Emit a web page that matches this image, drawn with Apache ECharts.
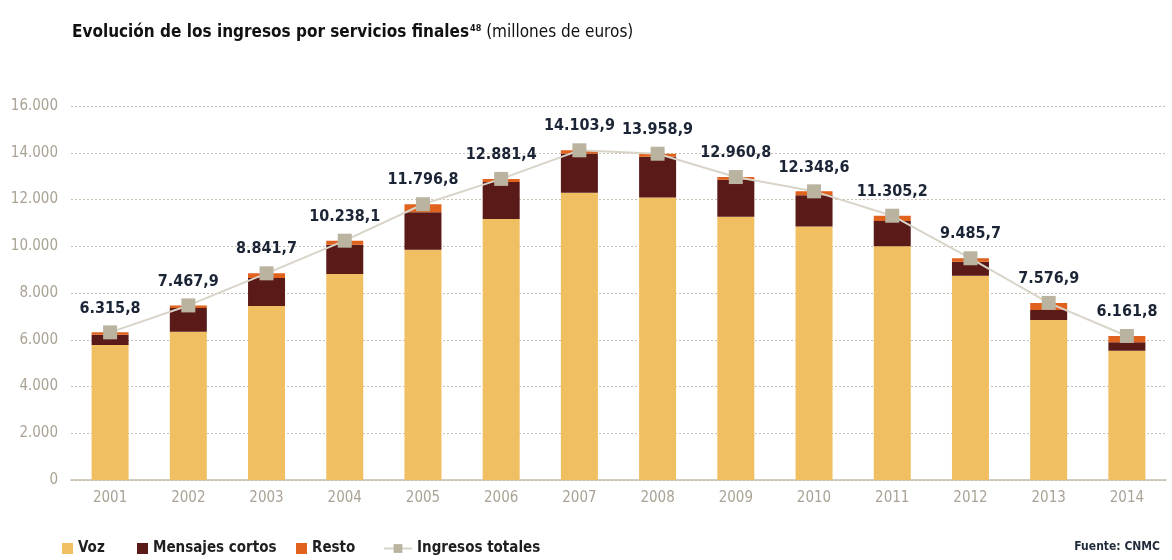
<!DOCTYPE html>
<html>
<head>
<meta charset="utf-8">
<script src="https://cdn.jsdelivr.net/npm/echarts@6/dist/echarts.min.js"></script>
<style>
html,body{margin:0;padding:0;background:#fff;}
#c{width:1172px;height:560px;}
</style>
</head>
<body>
<div id="c"></div>
<script>
const years = ['2001','2002','2003','2004','2005','2006','2007','2008','2009','2010','2011','2012','2013','2014'];
const voz = [5780, 6340, 7440, 8810, 9850, 11170, 12290, 12090, 11260, 10850, 10000, 8740, 6850, 5530];
const mensajes = [430, 1020, 1200, 1250, 1600, 1580, 1680, 1740, 1580, 1330, 1080, 600, 420, 360];
const resto = [105.8, 107.9, 201.7, 178.1, 346.8, 131.4, 133.9, 128.9, 120.8, 168.6, 225.2, 145.7, 306.9, 271.8];
const totales = [6315.8, 7467.9, 8841.7, 10238.1, 11796.8, 12881.4, 14103.9, 13958.9, 12960.8, 12348.6, 11305.2, 9485.7, 7576.9, 6161.8];
const yTicks = [0, 2000, 4000, 6000, 8000, 10000, 12000, 14000, 16000];

const FONT = "'Liberation Sans Narrow', 'DejaVu Sans Condensed', 'Roboto Condensed', sans-serif";

function esNum(v, dec) {
  const s = v.toFixed(dec);
  const parts = s.split('.');
  const int = parts[0].replace(/\B(?=(\d{3})+(?!\d))/g, '.');
  return parts.length > 1 ? int + ',' + parts[1] : int;
}

const legendText = {fontFamily: FONT, fontWeight: 'bold', fontSize: 15, color: '#1f1f1f'};
function oneLegend(name, left, extra) {
  return Object.assign({
    left: left, top: 541, padding: 0,
    itemWidth: 11, itemHeight: 11, itemGap: 0,
    textStyle: legendText,
    data: [{name: name, icon: 'rect'}]
  }, extra || {});
}

const chart = echarts.init(document.getElementById('c'), null, {renderer: 'canvas'});
chart.setOption({
  animation: false,
  backgroundColor: '#ffffff',
  title: {
    left: 67,
    top: 19,
    text: '{a|Evolución de los ingresos por servicios finales}{s|48}{b| (millones de euros)}',
    textStyle: {
      rich: {
        a: {fontFamily: FONT, fontWeight: 'bold', fontSize: 17, color: '#111111'},
        s: {fontFamily: FONT, fontWeight: 'bold', fontSize: 9, color: '#111111', verticalAlign: 'top', padding: [0, 0, 8, 1]},
        b: {fontFamily: FONT, fontWeight: 'normal', fontSize: 17, color: '#111111'}
      }
    }
  },
  grid: {left: 71, right: 6, top: 106, bottom: 80, containLabel: false},
  legend: [
    oneLegend('Voz', 62),
    oneLegend('Mensajes cortos', 137),
    oneLegend('Resto', 296),
    oneLegend('Ingresos totales', 383, {itemWidth: 28, data: [{name: 'Ingresos totales'}]})
  ],
  xAxis: {
    type: 'category',
    data: years,
    axisLine: {show: true, lineStyle: {color: '#c3bcae', width: 1.5}},
    axisTick: {show: false},
    axisLabel: {fontFamily: FONT, fontSize: 15, color: '#aaa395', margin: 11}
  },
  yAxis: {
    type: 'value',
    min: 0,
    max: 16000,
    interval: 2000,
    axisLine: {show: false},
    axisTick: {show: false},
    splitLine: {lineStyle: {color: '#c9c2b4', type: [2, 2], width: 1}},
    axisLabel: {
      fontFamily: FONT, fontSize: 15, color: '#aaa395', margin: 13,
      formatter: function (v) { return yTicks.indexOf(v) >= 0 ? esNum(v, 0) : ''; },
      padding: [0, 0, 6, 0]
    }
  },
  series: [
    {name: 'Voz', type: 'bar', stack: 't', data: voz, barWidth: 37, itemStyle: {color: '#f0bf62'}},
    {name: 'Mensajes cortos', type: 'bar', stack: 't', data: mensajes, barWidth: 37, itemStyle: {color: '#5a1a18'}},
    {name: 'Resto', type: 'bar', stack: 't', data: resto, barWidth: 37, itemStyle: {color: '#e0621c'}},
    {
      name: 'Ingresos totales', type: 'line', data: totales, z: 5,
      symbol: 'rect', symbolSize: 14,
      itemStyle: {color: '#b9b3a0'},
      lineStyle: {color: '#d9d4c8', width: 2},
      label: {
        show: true, position: 'top', distance: 9,
        fontFamily: FONT, fontWeight: 'bold', fontSize: 16, color: '#1c2536',
        formatter: function (p) { return esNum(p.value, 1); }
      }
    }
  ],
  graphic: [
    {
      type: 'text', right: 12, top: 541,
      style: {text: 'Fuente: CNMC', fontFamily: FONT, fontWeight: 'bold', fontSize: 12, fill: '#1f2a3a'}
    }
  ]
});
</script>
</body>
</html>
